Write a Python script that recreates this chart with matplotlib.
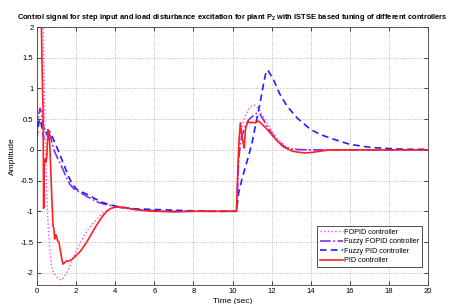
import matplotlib
matplotlib.use("Agg")
import matplotlib.pyplot as plt

plt.rcParams['font.family'] = ['Liberation Sans', 'DejaVu Sans']
plt.rcParams['mathtext.fontset'] = 'custom'
plt.rcParams['mathtext.rm'] = 'Liberation Sans:bold'
plt.rcParams['mathtext.it'] = 'Liberation Sans:bold'
plt.rcParams['mathtext.bf'] = 'Liberation Sans:bold'

# ---- data ----
pid_t = [0, 0.18, 0.22, 0.27, 0.31, 0.34, 0.36, 0.40, 0.45, 0.50, 0.56, 0.60, 0.65, 0.70, 0.76,
         0.82, 0.86, 0.90, 0.95, 1.00, 1.05, 1.12, 1.20, 1.27, 1.33, 1.40, 1.50, 1.60, 1.76, 1.90,
         2.00, 2.19, 2.40, 2.60, 2.80, 3.00, 3.20, 3.40, 3.60, 3.80, 4.00, 4.50, 5.00, 5.50, 6.00,
         7.00, 8.00, 9.00, 10.00, 10.20, 10.25, 10.32, 10.40, 10.48, 10.55, 10.60, 10.65, 10.69,
         10.79, 10.90, 11.00, 11.15, 11.33, 11.50, 11.70, 12.00, 12.30, 12.60, 13.05, 13.40, 13.73,
         14.10, 14.50, 15.00, 16, 17, 18, 19, 20]
pid_v = [6, 3, 2.1, 1.2, 0.6, -0.95, -0.3, -0.15, -0.2, -0.12, 0.33, 0.25, 0.1, -0.3, -0.8,
         -1.24, -1.28, -1.45, -1.38, -1.4, -1.48, -1.5, -1.65, -1.78, -1.86, -1.84, -1.81, -1.81, -1.79, -1.75,
         -1.72, -1.66, -1.57, -1.47, -1.36, -1.25, -1.15, -1.06, -0.99, -0.95, -0.93, -0.94, -0.97, -0.99, -1.0,
         -1.01, -1.0, -1.0, -1.0, -1.0, -0.5, 0.1, 0.44, 0.22, 0.1, 0.03, 0.3, 0.38,
         0.46, 0.44, 0.45, 0.44, 0.47, 0.42, 0.36, 0.25, 0.14, 0.05, -0.02, -0.04, -0.05,
         -0.04, -0.02, 0.0, 0.0, 0.0, 0.0, 0.0, 0.0]

fopid_t = [0, 0.2, 0.3, 0.36, 0.42, 0.5, 0.56, 0.65, 0.74, 0.85, 1.0, 1.1, 1.25, 1.4, 1.6, 1.8,
           2.0, 2.2, 2.4, 2.6, 2.8, 3.0, 3.2, 3.4, 3.6, 3.8, 4.0, 4.5, 5, 6, 7, 8, 9, 10, 10.2,
           10.25, 10.31, 10.4, 10.48, 10.56, 10.65, 10.75, 10.85, 11.0, 11.1, 11.2, 11.35, 11.5,
           11.75, 12.0, 12.3, 12.7, 13.0, 13.5, 15, 20]
fopid_v = [4, 3, 2.3, 1.2, 0.2, -0.7, -1.18, -1.6, -1.9, -2.0, -2.07, -2.1, -2.12, -2.07, -1.95, -1.8,
           -1.65, -1.52, -1.4, -1.3, -1.22, -1.15, -1.08, -1.02, -0.98, -0.95, -0.93, -0.94, -0.97, -0.99, -1.0, -1.0, -1.0, -1.0, -1.0,
           -0.6, 0.0, 0.25, 0.38, 0.48, 0.55, 0.62, 0.68, 0.72, 0.73, 0.72, 0.66, 0.58,
           0.45, 0.32, 0.18, 0.06, 0.02, 0.0, 0.0, 0.0]

ffopid_t = [0, 0.05, 0.1, 0.15, 0.22, 0.3, 0.38, 0.45, 0.55, 0.62, 0.7, 0.8, 0.9, 1.0, 1.15, 1.33,
            1.5, 1.68, 1.85, 2.0, 2.25, 2.5, 2.8, 3.1, 3.4, 3.7, 4.0, 4.5, 5, 6, 7, 8, 9, 10.2,
            10.25, 10.31, 10.4, 10.5, 10.65, 10.8, 11.0, 11.15, 11.25, 11.4, 11.6, 11.8, 12.0,
            12.3, 12.7, 13.0, 14, 20]
ffopid_v = [0.3, 0.45, 0.6, 0.68, 0.62, 0.45, 0.3, 0.28, 0.3, 0.28, 0.2, 0.08, -0.03, -0.1, -0.2, -0.32,
            -0.45, -0.56, -0.62, -0.66, -0.7, -0.75, -0.8, -0.85, -0.88, -0.9, -0.92, -0.95, -0.97, -0.99, -1.0, -1.0, -1.0, -1.0,
            -0.7, -0.16, 0.1, 0.25, 0.38, 0.48, 0.54, 0.58, 0.6, 0.58, 0.48, 0.37, 0.27,
            0.15, 0.04, 0.01, 0.0, 0.0]

fpid_t = [0, 0.05, 0.1, 0.14, 0.2, 0.28, 0.35, 0.45, 0.55, 0.65, 0.8, 0.99, 1.15, 1.33, 1.5, 1.68,
          1.85, 2.02, 2.25, 2.53, 3.0, 3.38, 3.7, 4.07, 4.5, 5.0, 5.95, 7.65, 9, 10.2, 10.31, 10.5,
          10.82, 11.0, 11.16, 11.4, 11.6, 11.7, 11.8, 12.1, 12.4, 12.79, 13.3, 14.0, 14.5, 15.0,
          16.0, 17.06, 18.1, 19, 20]
fpid_v = [0.2, 0.35, 0.45, 0.5, 0.45, 0.3, 0.18, 0.22, 0.3, 0.3, 0.2, 0.06, -0.06, -0.21, -0.34, -0.48,
          -0.57, -0.64, -0.68, -0.72, -0.8, -0.86, -0.89, -0.92, -0.94, -0.96, -0.97, -0.99, -1.0, -1.0, -0.7, -0.45,
          -0.1, 0.12, 0.38, 0.75, 1.1, 1.25, 1.3, 1.14, 0.92, 0.71, 0.52, 0.33, 0.25, 0.19,
          0.09, 0.04, 0.02, 0.01, 0.01]

labels = ['FOPID controller', 'Fuzzy FOPID controller', 'Fuzzy PID controller', 'PID controller']
x_ticks = [0, 2, 4, 6, 8, 10, 12, 14, 16, 18, 20]
y_ticks = [-2, -1.5, -1, -0.5, 0, 0.5, 1, 1.5, 2]

# ---- plot ----
fig = plt.figure(figsize=(4.53, 3.04), dpi=100)
ax = fig.add_axes([0.0817, 0.0625, 0.8633, 0.8485])

ax.plot(fopid_t, fopid_v, color='#ff44ff', ls=':', lw=1.0, label=labels[0])
ax.plot(ffopid_t, ffopid_v, color='#8a2be2', ls='-.', lw=1.2, label=labels[1])
ax.plot(fpid_t, fpid_v, color='#2020ff', ls=(0, (4, 2.5)), lw=1.2, label=labels[2])
ax.plot(pid_t, pid_v, color='#ff2020', ls='-', lw=1.2, label=labels[3])

ax.set_xlim(0, 20)
ax.set_ylim(-2.2, 2)
ax.set_xticks(x_ticks)
ax.set_yticks(y_ticks)
ax.set_xticklabels([str(v) for v in x_ticks])
ax.set_yticklabels(['-2', '-1.5', '-1', '-0.5', '0', '0.5', '1', '1.5', '2'])
ax.tick_params(direction='in', length=3, width=0.5, labelsize=5.5, top=True, right=True, pad=2.5)
ax.grid(True, ls=':', color='#a8a8a8', lw=0.6)
for s in ax.spines.values():
    s.set_linewidth(0.6)
    s.set_color('#404040')

ax.set_xlabel('Time (sec)', fontsize=6, labelpad=2)
ax.set_ylabel('Amplitude', fontsize=6, labelpad=3)
ax.set_title(r'Control signal for step input and load disturbance excitation for plant P$_2$ with ISTSE based tuning of different controllers',
             fontsize=5.4, fontweight='bold', pad=6)

leg = ax.legend(loc='lower right', bbox_to_anchor=(0.985, 0.07), fontsize=5.2, frameon=True,
                fancybox=False, handlelength=3.2, handletextpad=0.2, labelspacing=0.35,
                borderpad=0.35, borderaxespad=0)
leg.get_frame().set_edgecolor('black')
leg.get_frame().set_linewidth(0.6)

fig.savefig('out.png', dpi=100)
